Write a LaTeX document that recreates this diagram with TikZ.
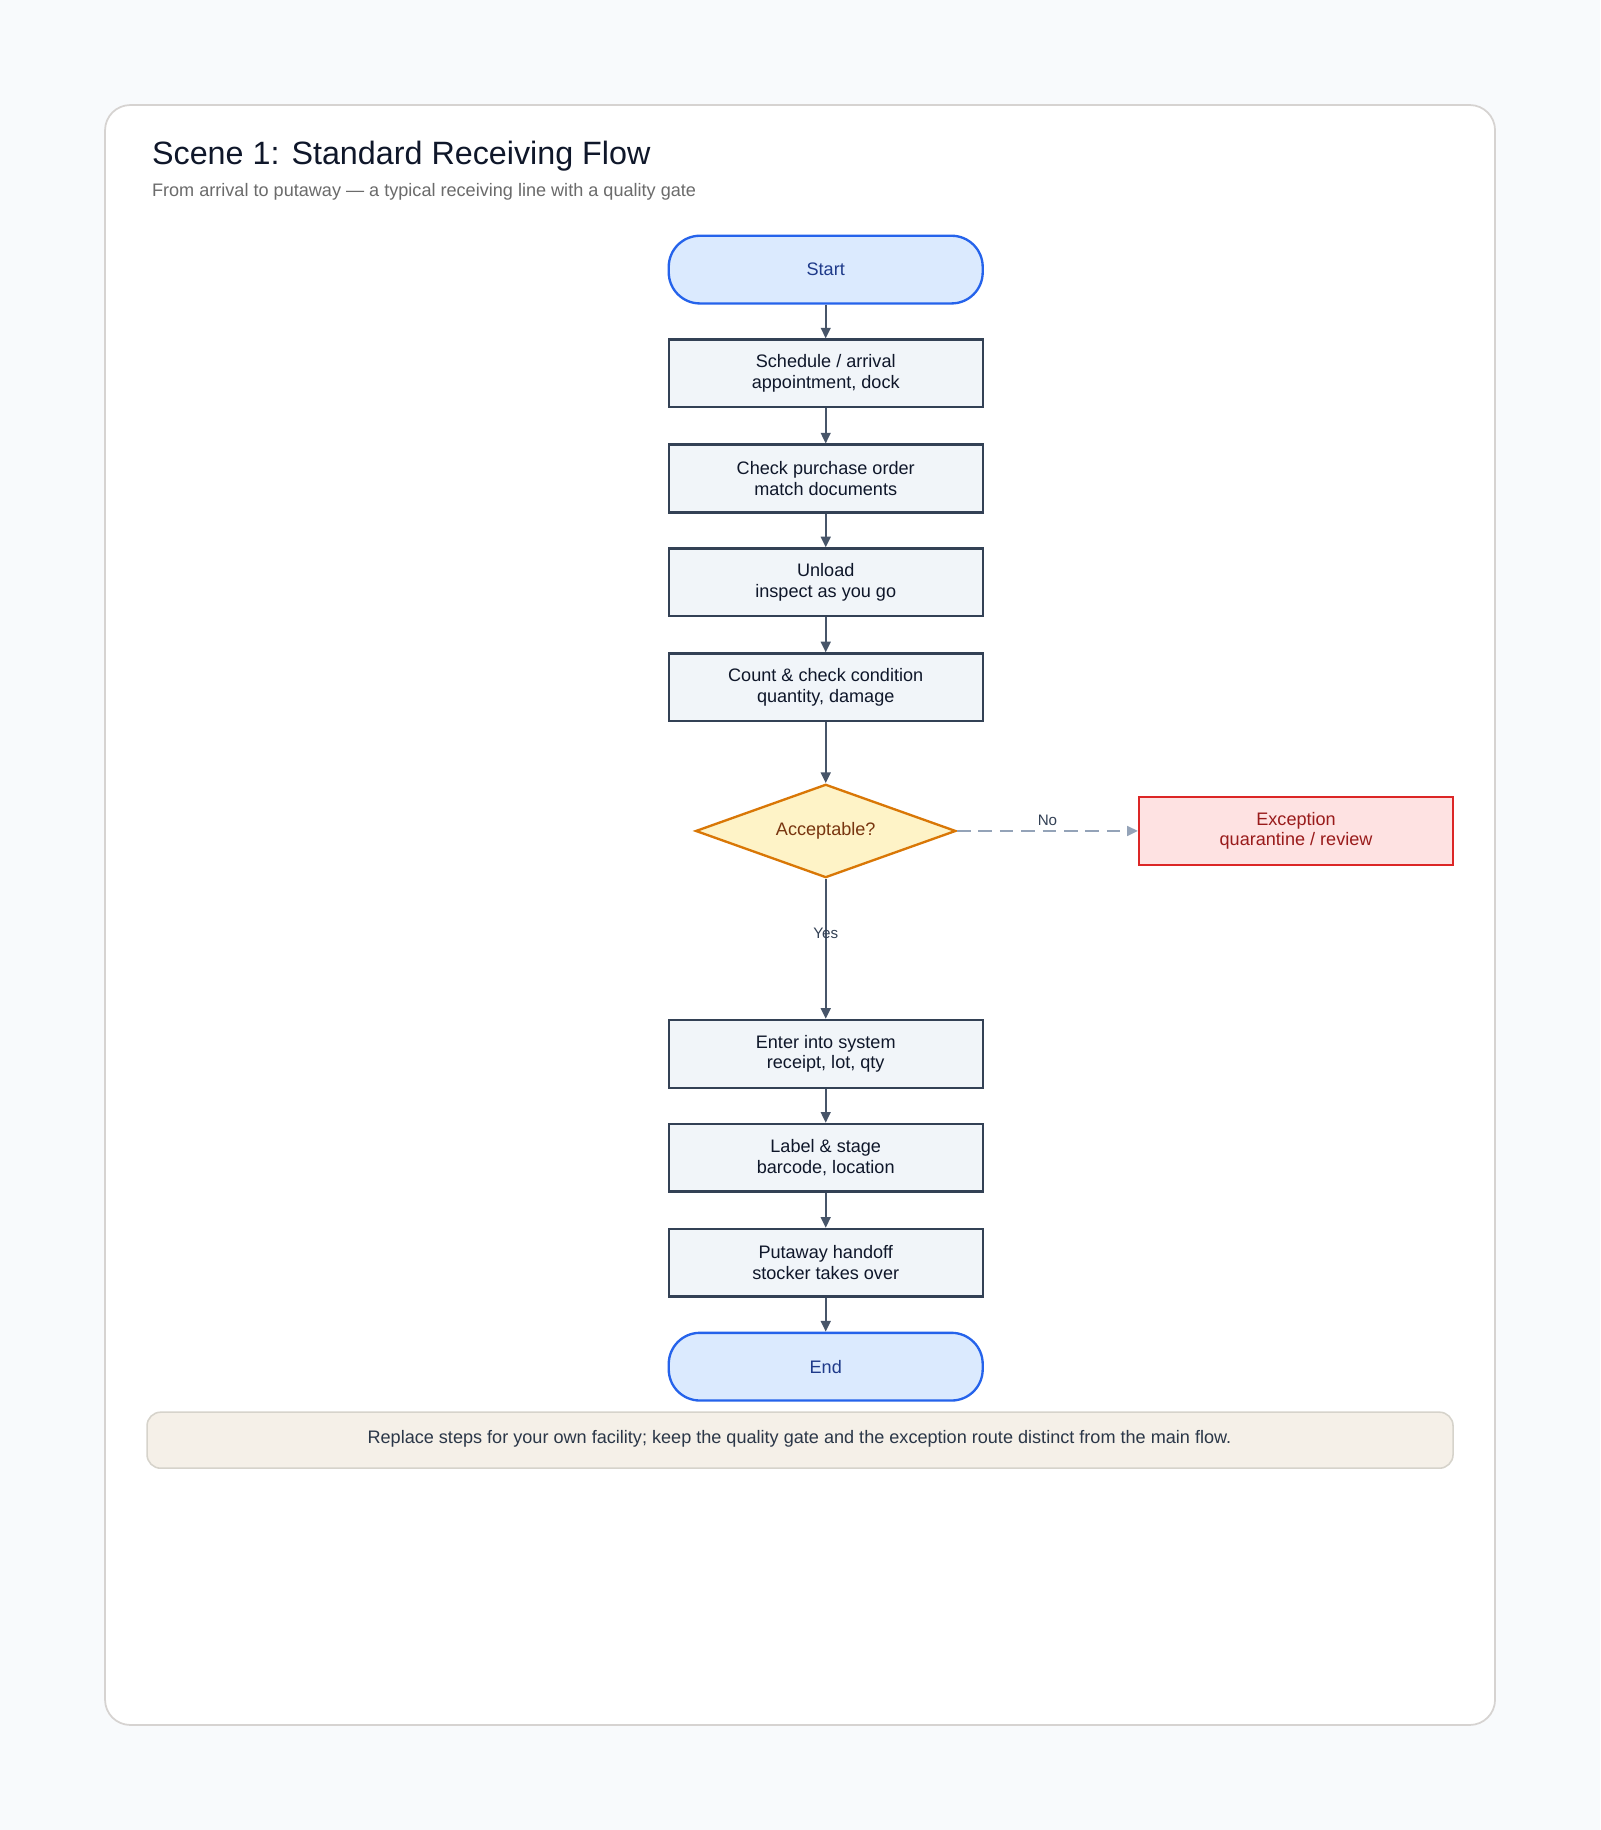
\documentclass[tikz,border=0pt]{standalone}
\usepackage{fontspec}
\setmainfont{Liberation Sans}
\usetikzlibrary{shapes.geometric,arrows.meta}

\definecolor{pagebg}{HTML}{F8FAFC}
\definecolor{cardline}{HTML}{D6D3D1}
\definecolor{boxfill}{HTML}{F1F5F9}
\definecolor{boxline}{HTML}{334155}
\definecolor{boxtext}{HTML}{0F172A}
\definecolor{termfill}{HTML}{DBEAFE}
\definecolor{termline}{HTML}{2563EB}
\definecolor{termtext}{HTML}{1E3A8A}
\definecolor{gatefill}{HTML}{FEF3C7}
\definecolor{gateline}{HTML}{D97706}
\definecolor{gatetext}{HTML}{78350F}
\definecolor{excfill}{HTML}{FEE2E2}
\definecolor{excline}{HTML}{DC2626}
\definecolor{exctext}{HTML}{991B1B}
\definecolor{arrowcol}{HTML}{475569}
\definecolor{nocol}{HTML}{94A3B8}
\definecolor{notefill}{HTML}{F5F0E8}
\definecolor{noteline}{HTML}{D6D3CB}
\definecolor{subtext}{HTML}{6B6B6B}

\tikzset{
  stepbox/.style={draw=boxline, fill=boxfill, line width=1.2pt, text=boxtext,
    minimum width=161.4pt, minimum height=34.8pt, align=center,
    font=\fontsize{9.3}{10.6}\selectfont, inner sep=0pt},
  terminal/.style={stepbox, draw=termline, fill=termfill, text=termtext,
    rounded corners=16pt},
  gate/.style={diamond, aspect=2.79, draw=gateline, fill=gatefill, text=gatetext,
    line width=1.2pt, minimum width=133.8pt, minimum height=48pt,
    inner sep=0pt, font=\fontsize{9.3}{10.6}\selectfont},
  exception/.style={stepbox, draw=excline, fill=excfill, text=exctext},
  flow/.style={->, >={Triangle[length=5.5pt,width=5pt]}, draw=arrowcol, line width=1.1pt},
  noflow/.style={flow, draw=nocol, dash pattern=on 7pt off 4pt},
  edgelabel/.style={font=\fontsize{7.8}{9}\selectfont, text=boxline}
}

\begin{document}
\begin{tikzpicture}[x=0.6pt, y=-0.6pt]
\useasboundingbox (0, 0) rectangle (1371, 1568);
\fill [pagebg] (0, 0) rectangle (1371, 1568);
\draw [cardline, fill=white, line width=0.9pt, rounded corners=13pt] (90, 90) rectangle (1281, 1478);

\node [anchor=base west, inner sep=0pt, font=\fontsize{16.6}{20}\selectfont, text=boxtext] (title) at (130, 141) {Scene 1: Standard Receiving Flow};
\node [anchor=base west, inner sep=0pt, font=\fontsize{9.3}{11}\selectfont, text=subtext] (subtitle) at (130, 168) {From arrival to putaway — a typical receiving line with a quality gate};

\node [terminal] (start) at (707.5, 231) {Start};
\node [stepbox] (schedule) at (707.5, 320) {Schedule / arrival\\appointment, dock};
\node [stepbox] (check) at (707.5, 410) {Check purchase order\\match documents};
\node [stepbox] (unload) at (707.5, 499) {Unload\\inspect as you go};
\node [stepbox] (count) at (707.5, 589) {Count \& check condition\\quantity, damage};
\node [gate] (accept) at (707.5, 712) {Acceptable?};
\node [exception] (exception) at (1110.5, 712) {Exception\\quarantine / review};
\node [stepbox] (enter) at (707.5, 903) {Enter into system\\receipt, lot, qty};
\node [stepbox] (label) at (707.5, 992) {Label \& stage\\barcode, location};
\node [stepbox] (putaway) at (707.5, 1082) {Putaway handoff\\stocker takes over};
\node [terminal] (end) at (707.5, 1171) {End};

\draw [flow] (start) -- (schedule);
\draw [flow] (schedule) -- (check);
\draw [flow] (check) -- (unload);
\draw [flow] (unload) -- (count);
\draw [flow] (count) -- (accept);
\draw [flow] (accept) -- (enter) node[pos=0.39, edgelabel] {Yes};
\draw [noflow] (accept) -- (exception) node[midway, above, edgelabel, yshift=-1pt] {No};
\draw [flow] (enter) -- (label);
\draw [flow] (label) -- (putaway);
\draw [flow] (putaway) -- (end);

\draw [noteline, fill=notefill, line width=0.8pt, rounded corners=7pt] (126, 1210) rectangle (1245, 1258);
\node [font=\fontsize{9.3}{11}\selectfont, text=boxline!85!black] (note) at (685, 1233) {Replace steps for your own facility; keep the quality gate and the exception route distinct from the main flow.};
\end{tikzpicture}
\end{document}
